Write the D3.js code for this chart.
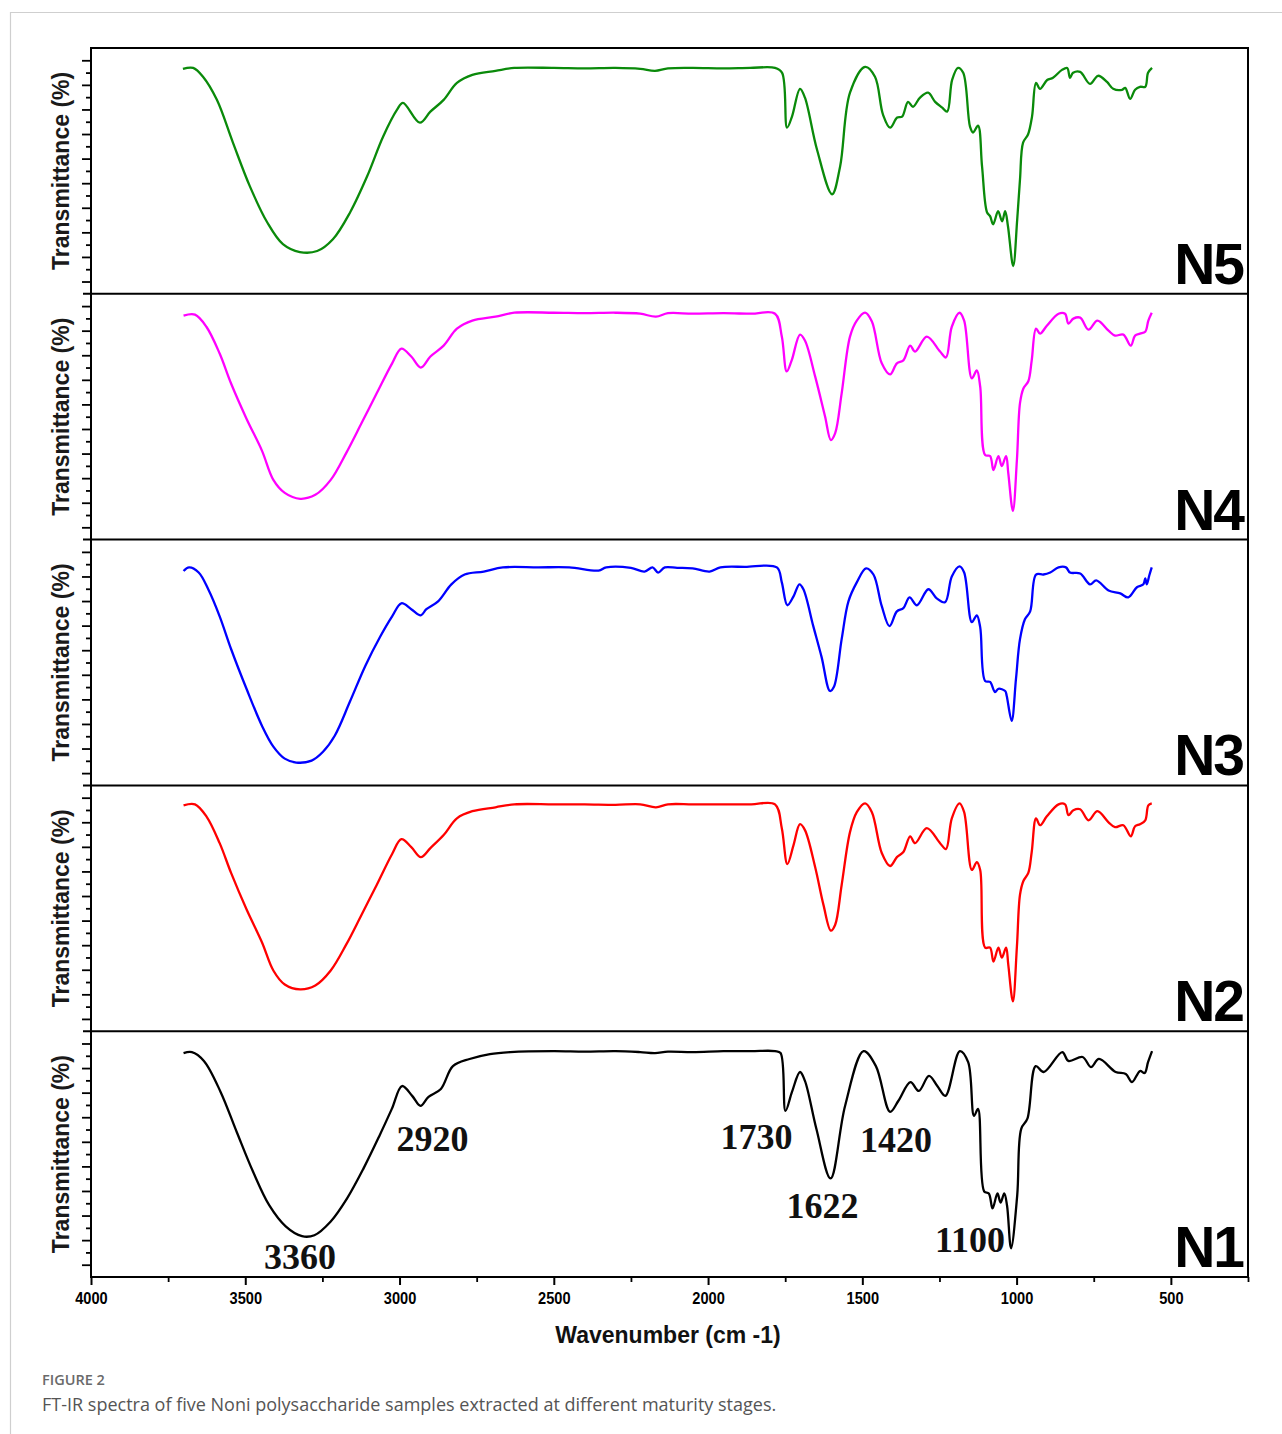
<!DOCTYPE html>
<html>
<head>
<meta charset="utf-8">
<script src="https://cdn.jsdelivr.net/npm/d3@7"></script>
<style>
body { margin: 0; background: #fff; }
</style>
</head>
<body>
<script>
// panel names, top to bottom
var panelNames = ["N5", "N4", "N3", "N2", "N1"];

// wavenumber (cm-1) and transmittance
var n5Wn = [3702,3669,3637,3592,3540,3485,3429,3378,3323,3267,3216,3160,3105,3053,3008,2989,2934,2900,2857,2814,2764,2689,2628,2500,2400,2300,2220,2172,2130,2050,1950,1864,1783,1760,1744,1728,1702,1686,1647,1598,1572,1540,1491,1459,1433,1410,1387,1371,1352,1336,1313,1287,1264,1241,1225,1209,1190,1173,1151,1141,1125,1112,1096,1086,1076,1060,1047,1037,1028,1011,998,989,979,963,950,937,924,901,882,853,836,827,817,794,762,736,707,687,658,648,632,616,600,583,574,561];
var n5T = [86.5,86.9,83.3,73.9,56.5,38.7,24.1,15.2,12.0,12.4,17.2,28.2,42.8,59.0,69.9,72.7,64.6,69.1,73.9,80.8,84.1,85.7,86.9,86.9,86.7,86.9,86.5,85.7,86.7,86.9,86.7,86.9,86.9,84.9,62.6,67.1,78.4,74.8,53.7,35.5,46.8,76.8,87.3,83.3,67.9,62.6,66.7,67.1,73.1,71.1,74.8,76.8,73.1,70.7,69.1,82.0,86.9,84.9,63.0,60.6,63.4,46.8,28.2,26.6,23.3,28.6,24.5,28.6,22.5,6.3,25.3,41.5,56.5,59.8,67.1,80.8,78.4,82.0,82.9,86.1,86.9,82.9,84.9,85.3,80.4,83.7,81.2,78.4,78.0,78.8,74.3,78.0,79.2,79.2,84.9,86.9];

var n4Wn = [3700,3663,3626,3583,3546,3496,3446,3409,3372,3322,3273,3223,3173,3123,3074,3024,2994,2962,2931,2900,2857,2814,2764,2689,2628,2500,2400,2300,2220,2169,2130,2050,1950,1860,1783,1761,1745,1729,1702,1686,1653,1621,1602,1588,1567,1540,1518,1491,1469,1437,1410,1388,1367,1345,1329,1291,1248,1229,1210,1185,1170,1145,1129,1118,1102,1086,1075,1059,1048,1034,1027,1012,999,989,978,962,951,937,924,902,864,843,832,816,794,767,738,702,681,654,630,616,600,583,573,562];
var n4T = [86.1,86.5,81.6,70.7,58.5,44.2,31.2,19.3,14.0,11.6,13.2,19.3,30.2,42.4,54.5,66.7,72.7,69.5,65.0,69.5,73.9,80.8,84.1,85.7,87.3,87.3,87.1,87.3,86.9,85.7,87.1,86.9,87.1,86.9,86.9,77.6,63.4,67.9,78.4,76.0,61.4,45.2,35.5,38.3,54.5,77.6,84.1,87.3,83.7,66.7,62.2,66.7,67.9,73.9,71.5,77.6,71.5,69.1,81.6,87.3,84.1,60.6,63.8,57.3,29.4,29.0,23.3,29.0,24.9,29.0,22.1,6.7,27.4,50.5,56.5,59.4,67.9,80.8,78.8,82.0,86.9,86.9,82.9,84.9,85.3,80.4,84.1,80.0,78.0,78.4,73.9,78.0,78.8,79.6,84.1,87.3];

var n3Wn = [3700,3682,3651,3620,3583,3546,3496,3446,3409,3372,3335,3285,3248,3210,3161,3111,3062,3024,2994,2962,2931,2913,2875,2832,2789,2727,2665,2550,2450,2355,2330,2250,2206,2180,2162,2140,2100,2050,1995,1960,1880,1777,1761,1743,1723,1704,1691,1659,1632,1605,1592,1567,1545,1518,1488,1464,1437,1412,1388,1367,1347,1323,1286,1259,1232,1210,1185,1170,1145,1129,1118,1102,1086,1070,1059,1037,1032,1016,1002,989,973,956,937,913,891,864,840,827,794,762,742,702,664,638,610,589,583,578,570,562];
var n3T = [82.2,83.7,81.6,74.8,63.8,50.5,34.3,19.3,10.8,5.9,4.3,5.1,8.7,15.2,29.0,43.6,55.7,63.8,69.1,66.7,64.2,66.7,69.9,76.8,80.8,82.0,83.7,83.7,83.7,82.4,83.7,83.5,82.0,83.7,81.6,83.7,83.5,83.3,82.0,83.7,83.9,83.7,77.6,68.3,71.9,76.8,74.8,59.8,47.2,33.4,35.1,54.5,69.9,77.6,83.3,80.8,67.9,59.8,65.8,67.1,71.5,68.3,74.8,71.1,69.5,80.0,84.1,81.6,61.4,64.2,59.4,37.5,37.1,33.0,34.3,33.4,31.4,21.3,38.3,54.5,62.6,65.8,80.8,80.8,81.6,83.7,83.7,81.6,81.2,76.8,78.4,74.3,73.1,71.5,75.6,76.8,79.2,76.8,80.4,83.7];

var n2Wn = [3700,3663,3626,3583,3546,3496,3446,3409,3372,3322,3273,3223,3173,3123,3074,3024,2994,2962,2931,2900,2857,2814,2764,2689,2628,2500,2400,2300,2220,2169,2130,2050,1950,1860,1783,1761,1743,1723,1702,1686,1653,1626,1602,1588,1567,1540,1518,1491,1469,1437,1410,1388,1367,1345,1329,1291,1248,1229,1210,1185,1170,1145,1129,1118,1102,1086,1075,1059,1048,1034,1027,1012,999,989,978,962,951,937,924,902,864,843,832,816,794,767,738,702,681,654,630,616,600,583,573,562];
var n2T = [86.9,87.3,82.4,71.5,59.4,44.6,31.2,19.7,14.0,12.0,13.6,19.7,30.2,42.4,54.5,67.1,73.1,69.9,65.8,69.5,74.8,81.6,84.5,86.1,87.3,87.3,87.3,87.1,87.3,86.1,87.3,87.3,87.3,87.3,87.3,77.6,63.0,70.7,79.2,76.8,61.8,46.4,35.9,38.3,54.5,76.0,84.1,87.7,84.1,67.5,62.2,65.8,67.9,74.3,71.5,77.6,71.5,69.1,81.6,87.7,84.1,60.6,63.8,60.6,29.0,29.0,23.3,29.0,24.9,29.0,22.1,7.1,29.4,50.5,56.1,59.4,67.9,81.6,78.8,82.4,87.3,87.3,82.9,84.9,85.3,80.8,84.5,80.0,78.0,78.8,74.3,78.4,79.2,80.8,86.9,87.7];

var n1Wn = [3700,3673,3634,3580,3528,3475,3422,3369,3316,3276,3223,3170,3117,3065,3025,2992,2959,2932,2906,2866,2827,2773,2707,2641,2500,2400,2300,2220,2172,2130,2050,1950,1860,1783,1765,1749,1728,1702,1686,1649,1603,1556,1496,1456,1410,1383,1344,1317,1284,1257,1231,1184,1157,1138,1125,1105,1090,1078,1062,1052,1040,1031,1018,998,985,965,938,912,852,832,786,759,733,679,646,626,600,585,574,561];
var n1T = [86.1,86.5,82.9,70.3,54.1,37.9,24.1,15.6,11.6,12.0,17.6,27.0,39.1,52.5,63.4,72.7,68.7,64.6,68.3,71.5,80.8,83.7,85.7,86.5,86.9,86.7,86.9,86.5,86.1,86.7,86.5,86.9,86.9,86.9,86.1,62.6,70.3,78.4,74.8,55.3,35.1,64.6,86.9,80.8,62.2,66.7,74.3,70.7,76.8,72.7,68.7,86.9,82.4,60.6,63.4,29.8,29.0,22.9,29.0,25.3,29.0,24.1,6.7,28.2,55.3,59.4,80.8,78.4,86.5,82.9,84.5,80.4,83.7,78.4,77.6,74.3,78.8,78.0,82.4,86.9];

// x axis ticks
var xMajorTicks = [4000, 3500, 3000, 2500, 2000, 1500, 1000, 500];
var xMinorTicks = [3750, 3250, 2750, 2250, 1750, 1250, 750, 250];
// y axis ticks (no labels in the figure)
var yMajorTicks = [0, 10, 20, 30, 40, 50, 60, 70, 80, 90];
var yMinorTicks = [5, 15, 25, 35, 45, 55, 65, 75, 85];

// band labels on N1
var peakLabels = ["3360", "2920", "1730", "1622", "1420", "1100"];
var peakWn = [3316, 2932, 1749, 1603, 1410, 1018];
var peakT = [11.6, 64.6, 62.6, 35.1, 62.2, 6.7];

var spectra = [
  {wn: n5Wn, t: n5T},
  {wn: n4Wn, t: n4T},
  {wn: n3Wn, t: n3T},
  {wn: n2Wn, t: n2T},
  {wn: n1Wn, t: n1T}
];
var lineColors = ["#0a8a0a", "#ff00ff", "#0000ff", "#ff0000", "#000000"];
// label offsets from each band minimum: dx, dy, anchor
var peakOffsets = [[-2, 33, "middle"], [-24, 45, "start"], [7, 38, "end"], [-8, 40, "middle"], [-30, 40, "start"], [-6, 4, "end"]];

var plotLeft = 91, plotRight = 1248, plotTop = 48, plotBottom = 1277;
var panelH = (plotBottom - plotTop) / 5;

var svg = d3.select("body").append("svg")
    .attr("width", 1282)
    .attr("height", 1434);

// outer figure box
svg.append("path")
    .attr("d", "M10.5,1434 L10.5,12.5 L1282,12.5")
    .style("fill", "none")
    .style("stroke", "#cfcfcf")
    .style("stroke-width", 1.2);

var x = d3.scaleLinear().domain([4000, 250]).range([plotLeft, plotRight]);

var line = d3.line()
    .x(function(d) { return x(d[0]); })
    .curve(d3.curveCatmullRom.alpha(0.5));

var yScales = [];

panelNames.forEach(function(name, i) {
  var y0 = plotTop + i * panelH;
  var y = d3.scaleLinear().domain([-5, 95]).range([y0 + panelH, y0]);
  yScales.push(y);

  var ax = svg.append("g").attr("transform", "translate(" + plotLeft + ",0)");
  ax.call(d3.axisLeft(y).tickValues(yMajorTicks).tickSize(9).tickFormat(""));
  ax.select(".domain").remove();
  var axm = svg.append("g").attr("transform", "translate(" + plotLeft + ",0)");
  axm.call(d3.axisLeft(y).tickValues(yMinorTicks).tickSize(5).tickFormat(""));
  axm.select(".domain").remove();
  svg.selectAll(".tick line").style("stroke", "#000").style("stroke-width", 1.8);

  var s = spectra[i];
  var n = Math.min(s.wn.length, s.t.length);
  var pts = [];
  for (var k = 0; k < n; k++) pts.push([s.wn[k], s.t[k]]);

  svg.append("path")
      .datum(pts)
      .attr("d", line.y(function(d) { return y(d[1]); }))
      .style("fill", "none")
      .style("stroke", lineColors[i])
      .style("stroke-width", 2.3)
      .style("stroke-linejoin", "round");

  svg.append("text")
      .attr("transform", "translate(61," + (y0 + panelH / 2) + ") rotate(-90)")
      .attr("dy", "0.35em")
      .style("text-anchor", "middle")
      .style("font-family", "'Liberation Sans', Arial, sans-serif")
      .style("font-weight", "bold")
      .style("font-size", "23px")
      .style("fill", "#1a1a1a")
      .text("Transmittance (%)");

  svg.append("text")
      .attr("x", plotRight - 5)
      .attr("y", y0 + panelH - 10)
      .style("text-anchor", "end")
      .style("font-family", "'Liberation Sans', Arial, sans-serif")
      .style("font-weight", "bold")
      .style("font-size", "57px")
      .style("letter-spacing", "-2px")
      .style("fill", "#000")
      .text(name);

  if (i > 0) {
    svg.append("line")
        .attr("x1", plotLeft - 8).attr("x2", plotRight)
        .attr("y1", y0).attr("y2", y0)
        .style("stroke", "#000")
        .style("stroke-width", 2);
  }
});

// frame
svg.append("rect")
    .attr("x", plotLeft).attr("y", plotTop)
    .attr("width", plotRight - plotLeft).attr("height", plotBottom - plotTop)
    .style("fill", "none")
    .style("stroke", "#000")
    .style("stroke-width", 2);

// x axis
var xa = svg.append("g").attr("transform", "translate(0," + plotBottom + ")");
xa.call(d3.axisBottom(x).tickValues(xMajorTicks).tickSize(8).tickPadding(7).tickFormat(d3.format("d")));
xa.select(".domain").remove();
xa.selectAll(".tick line").style("stroke", "#000").style("stroke-width", 2);
xa.selectAll(".tick text")
    .attr("transform", "scale(0.86,1)")
    .style("font-family", "'Liberation Sans', Arial, sans-serif")
    .style("font-weight", "bold")
    .style("font-size", "17px")
    .style("fill", "#000");
var xm = svg.append("g").attr("transform", "translate(0," + plotBottom + ")");
xm.call(d3.axisBottom(x).tickValues(xMinorTicks).tickSize(5).tickFormat(""));
xm.select(".domain").remove();
xm.selectAll(".tick line").style("stroke", "#000").style("stroke-width", 1.8);

svg.append("text")
    .attr("x", 668)
    .attr("y", 1343)
    .style("text-anchor", "middle")
    .style("font-family", "'Liberation Sans', Arial, sans-serif")
    .style("font-weight", "bold")
    .style("font-size", "23px")
    .style("fill", "#111")
    .text("Wavenumber (cm -1)");

// band labels
var yN1 = yScales[4];
peakLabels.forEach(function(lbl, j) {
  var off = peakOffsets[j];
  svg.append("text")
      .attr("x", x(peakWn[j]) + off[0])
      .attr("y", yN1(peakT[j]) + off[1])
      .style("text-anchor", off[2])
      .style("font-family", "'Liberation Serif', 'Times New Roman', serif")
      .style("font-weight", "bold")
      .style("font-size", "36px")
      .style("fill", "#111")
      .text(lbl);
});

// caption
svg.append("text")
    .attr("x", 42).attr("y", 1385)
    .style("font-family", "'Open Sans', sans-serif")
    .style("font-weight", "600")
    .style("font-size", "14.5px")
    .style("fill", "#6a6a6a")
    .text("FIGURE 2");
svg.append("text")
    .attr("x", 42).attr("y", 1411)
    .style("font-family", "'Open Sans', sans-serif")
    .style("font-size", "18px")
    .style("fill", "#555")
    .text("FT-IR spectra of five Noni polysaccharide samples extracted at different maturity stages.");
</script>
</body>
</html>
